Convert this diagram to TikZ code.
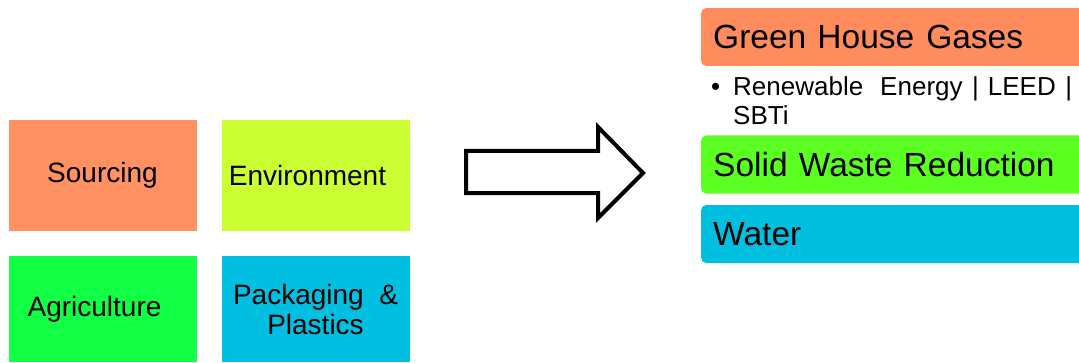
\documentclass[tikz,border=0pt]{standalone}
\usepackage{fontspec}
\setmainfont{Liberation Sans}
\usetikzlibrary{positioning}

\definecolor{srcorange}{HTML}{FF9162}
\definecolor{envlime}{HTML}{CCFF33}
\definecolor{agrgreen}{HTML}{11FF44}
\definecolor{pakcyan}{HTML}{00BFE0}
\definecolor{ghgorange}{HTML}{FF8C5C}
\definecolor{swgreen}{HTML}{5CFF22}
\definecolor{watcyan}{HTML}{00BFDF}

\begin{document}
\begin{tikzpicture}[x=1pt,y=1pt,
		tile/.style={minimum width=188pt,minimum height=111pt,inner sep=0pt,font=\fontsize{28}{30}\selectfont,align=center},
		bar/.style={anchor=west,minimum width=392pt,minimum height=58pt,inner sep=0pt,inner xsep=12pt,text width=368pt,align=left,rounded corners=5pt,font=\fontsize{33.5}{36}\selectfont}]
		
		%Page size
		\useasboundingbox (0,0) rectangle (1079,362);
		
		%Focus areas
		\node [tile,fill=srcorange] (sourcing) at (102.5,186.5) {Sourcing};
		\node [tile,fill=envlime] (environment) at (315.5,186.5) {Environment\hspace*{16pt}};
		\node [tile,fill=agrgreen,minimum height=106pt] (agriculture) at (102.5,53) {Agriculture\hspace*{16pt}};
		\node [tile,fill=pakcyan,minimum height=106pt] (packaging) at (315.5,53) {Packaging \ \&\\Plastics};
		
		%Big hollow arrow
		\draw [line width=4pt,miter limit=10] (466,211) -- (598,211) -- (598,235) -- (643,189) -- (598,144) -- (598,169) -- (466,169) -- cycle;
		
		%Goals
		\node [bar,fill=ghgorange] (ghg) at (701,325) {Green House\hspace{12pt}Gases};
		\node [anchor=north west,inner sep=0pt,align=left,font=\fontsize{26}{29}\selectfont] (ghgitems) at (711,286) {\textbullet\hspace{12.9pt}Renewable\hspace{17pt}Energy\hspace{9.5pt}|\hspace{9pt}LEED\hspace{9.5pt}|\\\hspace{22pt}SBTi};
		\node [bar,fill=swgreen] (waste) at (701,197.5) {Solid Waste Reduction};
		\node [bar,fill=watcyan] (water) at (701,128) {Water};
	\end{tikzpicture}
\end{document}
